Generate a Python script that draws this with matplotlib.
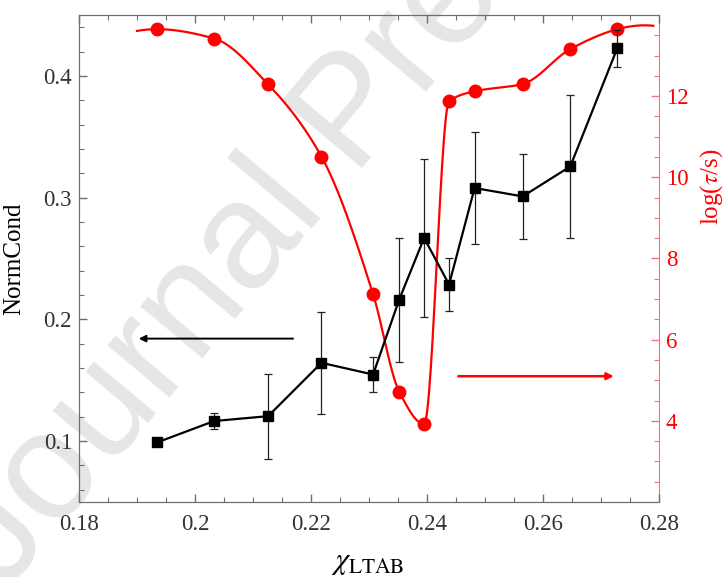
import numpy as np
import matplotlib
matplotlib.use("Agg")
import matplotlib.pyplot as plt

plt.rcParams['font.family'] = ['Liberation Serif', 'DejaVu Serif']
plt.rcParams['mathtext.fontset'] = 'stix'

# LTAB fraction
chi = [0.1935, 0.2033, 0.2126, 0.2218, 0.2307, 0.2352, 0.2395,
       0.2438, 0.2482, 0.2565, 0.2647, 0.2728]
# normalised conductivity with error bars
norm_cond = [0.099, 0.1165, 0.1205, 0.1643, 0.1547, 0.2162, 0.2669,
             0.2286, 0.3079, 0.3010, 0.3256, 0.4227]
norm_err = [0.0, 0.0066, 0.035, 0.042, 0.0142, 0.051, 0.065,
            0.022, 0.046, 0.035, 0.059, 0.015]
# relaxation time
log_tau = [13.65, 13.42, 12.29, 10.51, 7.12, 4.72, 3.92,
           11.87, 12.12, 12.30, 13.16, 13.65]


def pchip(x, y, xs):
    # monotone cubic Hermite curve through the points
    x = np.asarray(x, float)
    y = np.asarray(y, float)
    h = np.diff(x)
    d = np.diff(y) / h
    n = len(x)
    m = np.zeros(n)
    for k in range(1, n - 1):
        if d[k - 1] * d[k] > 0:
            w1 = 2 * h[k] + h[k - 1]
            w2 = h[k] + 2 * h[k - 1]
            m[k] = (w1 + w2) / (w1 / d[k - 1] + w2 / d[k])

    def end_slope(h0, h1, d0, d1):
        s = ((2 * h0 + h1) * d0 - h0 * d1) / (h0 + h1)
        if np.sign(s) != np.sign(d0):
            return 0.0
        if np.sign(d0) != np.sign(d1) and abs(s) > 3 * abs(d0):
            return 3 * d0
        return s

    m[0] = end_slope(h[0], h[1], d[0], d[1])
    m[-1] = end_slope(h[-1], h[-2], d[-1], d[-2])
    i = np.clip(np.searchsorted(x, xs) - 1, 0, n - 2)
    t = (xs - x[i]) / h[i]
    h00 = 2 * t**3 - 3 * t**2 + 1
    h10 = t**3 - 2 * t**2 + t
    h01 = -2 * t**3 + 3 * t**2
    h11 = t**3 - t**2
    return h00 * y[i] + h10 * h[i] * m[i] + h01 * y[i + 1] + h11 * h[i] * m[i + 1]


fig = plt.figure(figsize=(7.25, 5.77), dpi=100)
ax = fig.add_axes([0.109, 0.130, 0.800, 0.844])
ax.set_facecolor('none')
ax2 = ax.twinx()

# watermark behind everything
fig.text(0.007, -0.028, 'Journal Pre-proof', family='Liberation Sans',
         fontsize=110, color='#e6e6e6', rotation=50, rotation_mode='anchor',
         ha='left', va='baseline', zorder=-5)

gray = '#6e6e6e'
light_red = '#ff7070'

# red curve on the right axis
xs = np.linspace(0.19, 0.279, 600)
ax2.plot(xs, pchip(chi, log_tau, xs), color='red', lw=1.6, zorder=2)
ax2.plot(chi, log_tau, 'o', color='red', ms=9, zorder=3)
ax2.annotate('', xy=(0.2722, 5.1), xytext=(0.2454, 5.1),
             arrowprops=dict(arrowstyle='-|>', color='red', lw=1.8,
                             mutation_scale=10, shrinkA=0, shrinkB=0))

# black data on the left axis, drawn on top
ax.set_zorder(ax2.get_zorder() + 1)
ax.errorbar(chi, norm_cond, yerr=norm_err, fmt='none', ecolor='#222222',
            elinewidth=0.9, capsize=3.2, capthick=0.9, zorder=3)
ax.plot(chi, norm_cond, '-s', color='black', lw=1.6, ms=6.5, zorder=4)
ax.annotate('', xy=(0.1903, 0.1842), xytext=(0.2169, 0.1842),
            arrowprops=dict(arrowstyle='-|>', color='black', lw=1.4,
                            mutation_scale=10, shrinkA=0, shrinkB=0))

ax.set_xlim(0.18, 0.28)
ax.set_ylim(0.05, 0.45)
ax2.set_ylim(2, 14)

ax.set_xticks([0.18, 0.2, 0.22, 0.24, 0.26, 0.28])
ax.set_xticklabels(['0.18', '0.2', '0.22', '0.24', '0.26', '0.28'])
ax.set_xticks(np.arange(0.18, 0.2801, 0.005), minor=True)
ax.set_yticks([0.1, 0.2, 0.3, 0.4])
ax.set_yticklabels(['0.1', '0.2', '0.3', '0.4'])
ax.set_yticks(np.arange(0.06, 0.451, 0.02), minor=True)
ax2.set_yticks([4, 6, 8, 10, 12])
ax2.set_yticks(np.arange(2.5, 14.01, 0.5), minor=True)

for side in ['left', 'bottom', 'top']:
    ax.spines[side].set_color(gray)
    ax2.spines[side].set_color(gray)
ax.spines['right'].set_visible(False)
ax2.spines['right'].set_color(light_red)

ax.tick_params(axis='both', which='both', direction='in', colors=gray,
               labelcolor='#333333', labelsize=16.5, top=True)
ax.tick_params(axis='both', which='major', length=6, width=1)
ax.tick_params(axis='both', which='minor', length=3.5, width=0.8)
ax.tick_params(axis='x', pad=9)
ax.tick_params(axis='y', pad=5)
ax2.tick_params(axis='y', which='both', direction='in', colors=light_red,
                labelcolor='red', labelsize=16.5, pad=5)
ax2.tick_params(axis='y', which='major', length=6, width=1)
ax2.tick_params(axis='y', which='minor', length=3.5, width=0.8)

ax.set_ylabel('NormCond', fontsize=18)
ax.yaxis.set_label_coords(-0.093, 0.5)
ax.set_xlabel(r'$\chi_{\mathrm{LTAB}}$', fontsize=22)
ax.xaxis.set_label_coords(0.498, -0.095)
ax2.set_ylabel(r'log($\tau$/s)', fontsize=18, color='red')
ax2.yaxis.set_label_coords(1.067, 0.648)

fig.savefig('out.png', dpi=100)
